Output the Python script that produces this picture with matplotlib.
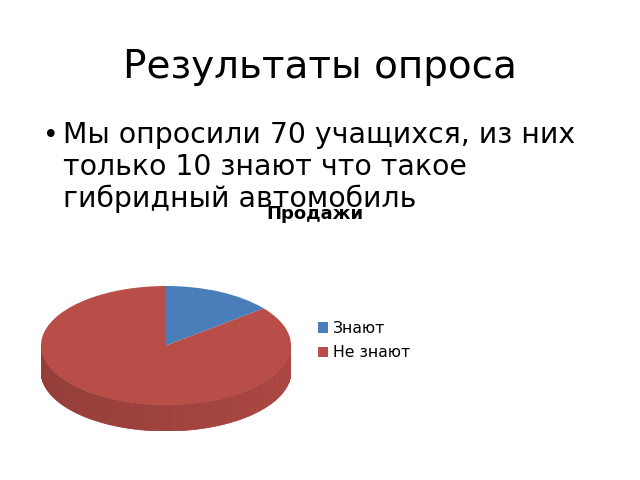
import numpy as np
import matplotlib
matplotlib.use("Agg")
import matplotlib.pyplot as plt
from matplotlib.colors import to_rgb

W, H = 640, 480

# данные
labels = ["Знают", "Не знают"]
values = [10, 60]
colors = ["#4A7EBB", "#B94D48"]

slide_title = "Результаты опроса"
bullet_lines = ["Мы опросили 70 учащихся, из них",
                "только 10 знают что такое",
                "гибридный автомобиль"]
chart_title = "Продажи"

fig = plt.figure(figsize=(W / 100, H / 100), dpi=100)
fig.patch.set_facecolor("white")


def px(x, y):
    return x / W, 1 - y / H


# заголовок слайда
fig.text(*px(320, 78), slide_title, fontsize=28, ha="center", va="baseline",
         family="DejaVu Sans")

# маркированный список
fig.text(*px(43, 143), "•", fontsize=19, ha="left", va="baseline")
for i, line in enumerate(bullet_lines):
    fig.text(*px(63, 143 + i * 32), line, fontsize=20.4, ha="left",
             va="baseline")

# заголовок диаграммы
fig.text(*px(315, 219), chart_title, fontsize=13, fontweight="bold",
         ha="center", va="baseline")

# объёмная круговая диаграмма: верхняя грань + боковина
left, right, top, face_bottom, side_bottom = 41, 291, 286, 405, 431
ry_px = (face_bottom - top) / 2
depth = (side_bottom - face_bottom) / ry_px
ax = fig.add_axes([left / W, 1 - side_bottom / H,
                   (right - left) / W, (side_bottom - top) / H])

total = sum(values)
start = 90.0
for val, col in zip(values, colors):
    theta2 = start
    theta1 = start - val / total * 360
    # боковая часть видна только для углов 180..360
    a1, a2 = theta1 % 360, (theta1 % 360) + (theta2 - theta1)
    for off in (0, 360, -360):
        lo = max(a1 + off, 180)
        hi = min(a2 + off, 360)
        if hi <= lo:
            continue
        ts = np.linspace(lo, hi, 120)
        base = np.array(to_rgb(col))
        for t0, t1 in zip(ts[:-1], ts[1:]):
            tm = np.radians((t0 + t1) / 2)
            shade = 0.80 + 0.12 * (np.cos(tm) + 1) / 2
            c = np.clip(base * shade, 0, 1)
            tt = np.radians(np.array([t0, t1]))
            xs = np.concatenate([np.cos(tt), np.cos(tt[::-1])])
            ys = np.concatenate([np.sin(tt), np.sin(tt[::-1]) - depth])
            ax.fill(xs, ys, color=c, lw=0.6, ec=c)
    start = theta1

wedges, _ = ax.pie(values, colors=colors, startangle=90, counterclock=False,
                   radius=1, center=(0, 0), frame=True,
                   wedgeprops=dict(linewidth=0))
ax.set_aspect("auto")
ax.set_xlim(-1, 1)
ax.set_ylim(-1 - depth, 1)
ax.axis("off")

# легенда
fig.legend(wedges, labels, loc="upper left",
           bbox_to_anchor=px(307, 310), frameon=False,
           fontsize=11.3, handlelength=0.65, handleheight=0.65,
           handletextpad=0.3, labelspacing=0.6, borderpad=0.2)

fig.savefig("out.png", dpi=100)
